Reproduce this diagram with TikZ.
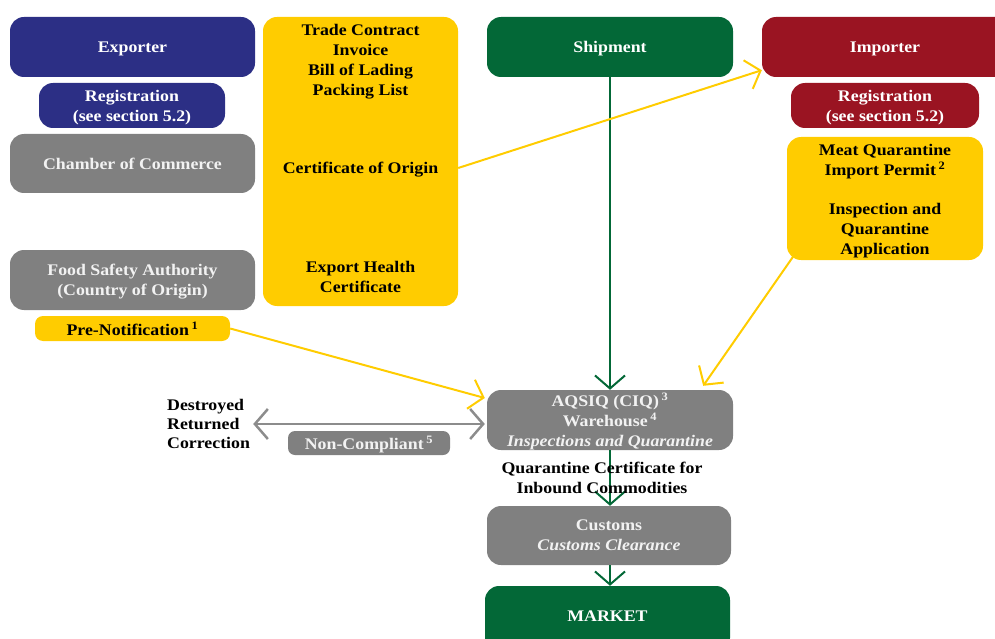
\documentclass[tikz,border=0pt]{standalone}
\usepackage{fontspec}
\setmainfont{Liberation Serif}[FakeStretch=1.1]
\usetikzlibrary{arrows.meta,calc}
\definecolor{navy}{HTML}{2C2F85}
\definecolor{boxgray}{HTML}{808080}
\definecolor{gold}{HTML}{FFCC00}
\definecolor{darkgreen}{HTML}{036837}
\definecolor{darkred}{HTML}{9A1422}
\definecolor{lighttext}{HTML}{F2F2F2}
\definecolor{arrowgray}{HTML}{8C8C8C}
\tikzset{
  bx/.style={rounded corners=14pt, inner sep=0pt, align=center, text depth=0pt,
    font=\fontsize{16.2}{20}\selectfont\bfseries},
  txt/.style={inner sep=0pt, align=center, text depth=0pt, font=\fontsize{16.2}{20}\selectfont\bfseries},
  garrow/.style={draw=darkgreen, line width=2pt, -{Straight Barb[length=13pt,width=30pt,line width=2pt]}},
  yarrow/.style={draw=gold, line width=2pt, -{Straight Barb[length=13pt,width=30pt,line width=2pt]}},
  grarrow/.style={draw=arrowgray, line width=2.5pt, {Straight Barb[length=13pt,width=30pt,line width=2.5pt]}-{Straight Barb[length=13pt,width=30pt,line width=2.5pt]}}
}
\begin{document}
\begin{tikzpicture}[x=1pt,y=-1pt]
\useasboundingbox (0,0) rectangle (995,639);
\clip (0,0) rectangle (995,639);
% exporter column
\node[bx, fill=navy, text=white, minimum width=245pt, minimum height=60pt] (exp) at (132.5,47) {Exporter};
\node[bx, fill=navy, text=white, minimum width=186pt, minimum height=45pt] (regx) at (132,105.5) {Registration\\(see section 5.2)};
\node[bx, fill=boxgray, text=lighttext, minimum width=245pt, minimum height=59pt] (coc) at (132.5,163.5) {Chamber of Commerce};
\node[bx, fill=boxgray, text=lighttext, minimum width=245pt, minimum height=60pt] (fsa) at (132.5,280) {Food Safety Authority\\(Country of Origin)};
\node[bx, rounded corners=8pt, fill=gold, text=black, minimum width=195pt, minimum height=25pt] (pre) at (132.5,328.5) {Pre-Notification\,\textsuperscript{1}};
% documents
\node[bx, fill=gold, minimum width=195pt, minimum height=289pt] (docs) at (360.5,161.5) {};
\node[txt] (d1) at (360.5,60) {Trade Contract\\Invoice\\Bill of Lading\\Packing List};
\node[txt] (d2) at (360.5,168) {Certificate of Origin};
\node[txt] (d3) at (360.5,277) {Export Health\\Certificate};
% shipment and importer
\node[bx, fill=darkgreen, text=white, minimum width=246pt, minimum height=60pt] (ship) at (610,47) {Shipment};
\node[bx, fill=darkred, minimum width=250pt, minimum height=60pt] (imp) at (887,47) {};
\node[txt, text=white] (impt) at (885,47) {Importer};
\node[bx, fill=darkred, text=white, minimum width=188pt, minimum height=45pt] (regi) at (885,105.5) {Registration\\(see section 5.2)};
\node[bx, fill=gold, minimum width=196pt, minimum height=123pt] (idoc) at (885,198.5) {};
\node[txt] (i1) at (885,160) {Meat Quarantine\\Import Permit\,\textsuperscript{2}};
\node[txt] (i2) at (885,229) {Inspection and\\Quarantine\\Application};
% inspection chain
\node[bx, fill=boxgray, text=lighttext, minimum width=246pt, minimum height=60pt] (aq) at (610,420) {AQSIQ (CIQ)\,\textsuperscript{3}\\Warehouse\,\textsuperscript{4}\\\textit{Inspections and Quarantine}};
\node[bx, rounded corners=7pt, fill=boxgray, text=lighttext, minimum width=162pt, minimum height=24pt] (nc) at (369,443) {Non-Compliant\,\textsuperscript{5}};
\node[txt, anchor=west, align=left, font=\fontsize{16.2}{19}\selectfont\bfseries] (dest) at (167,424) {Destroyed\\Returned\\Correction};
\node[bx, fill=boxgray, text=lighttext, minimum width=244pt, minimum height=59pt] (cus) at (609,535.5) {Customs\\\textit{Customs Clearance}};
\node[bx, fill=darkgreen, text=white, minimum width=245pt, minimum height=66pt] (mkt) at (607.5,619) {};
\node[txt, text=white] (mktt) at (607.5,616) {MARKET};
% connectors
\draw[garrow] (ship.south) -- (aq.north);
\draw[garrow] (aq.south) -- (aq.south |- cus.north);
\draw[garrow] (aq.south |- cus.south) -- (aq.south |- mkt.north);
\node[txt] (qc) at (602,478) {Quarantine Certificate for\\Inbound Commodities};
\draw[yarrow] (docs.east |- d2) -- ($(imp.south west)+(0,-7)$);
\draw[yarrow] (pre.east) -- ($(aq.west)+(-2,-22)$);
\draw[yarrow] ($(idoc.south west)+(8,-6)$) -- ($(aq.north east)+(-30,-4)$);
\draw[grarrow] ($(aq.west)+(-2,4)$) -- ($(dest.east |- aq.west)+(3,4)$);
\end{tikzpicture}
\end{document}
